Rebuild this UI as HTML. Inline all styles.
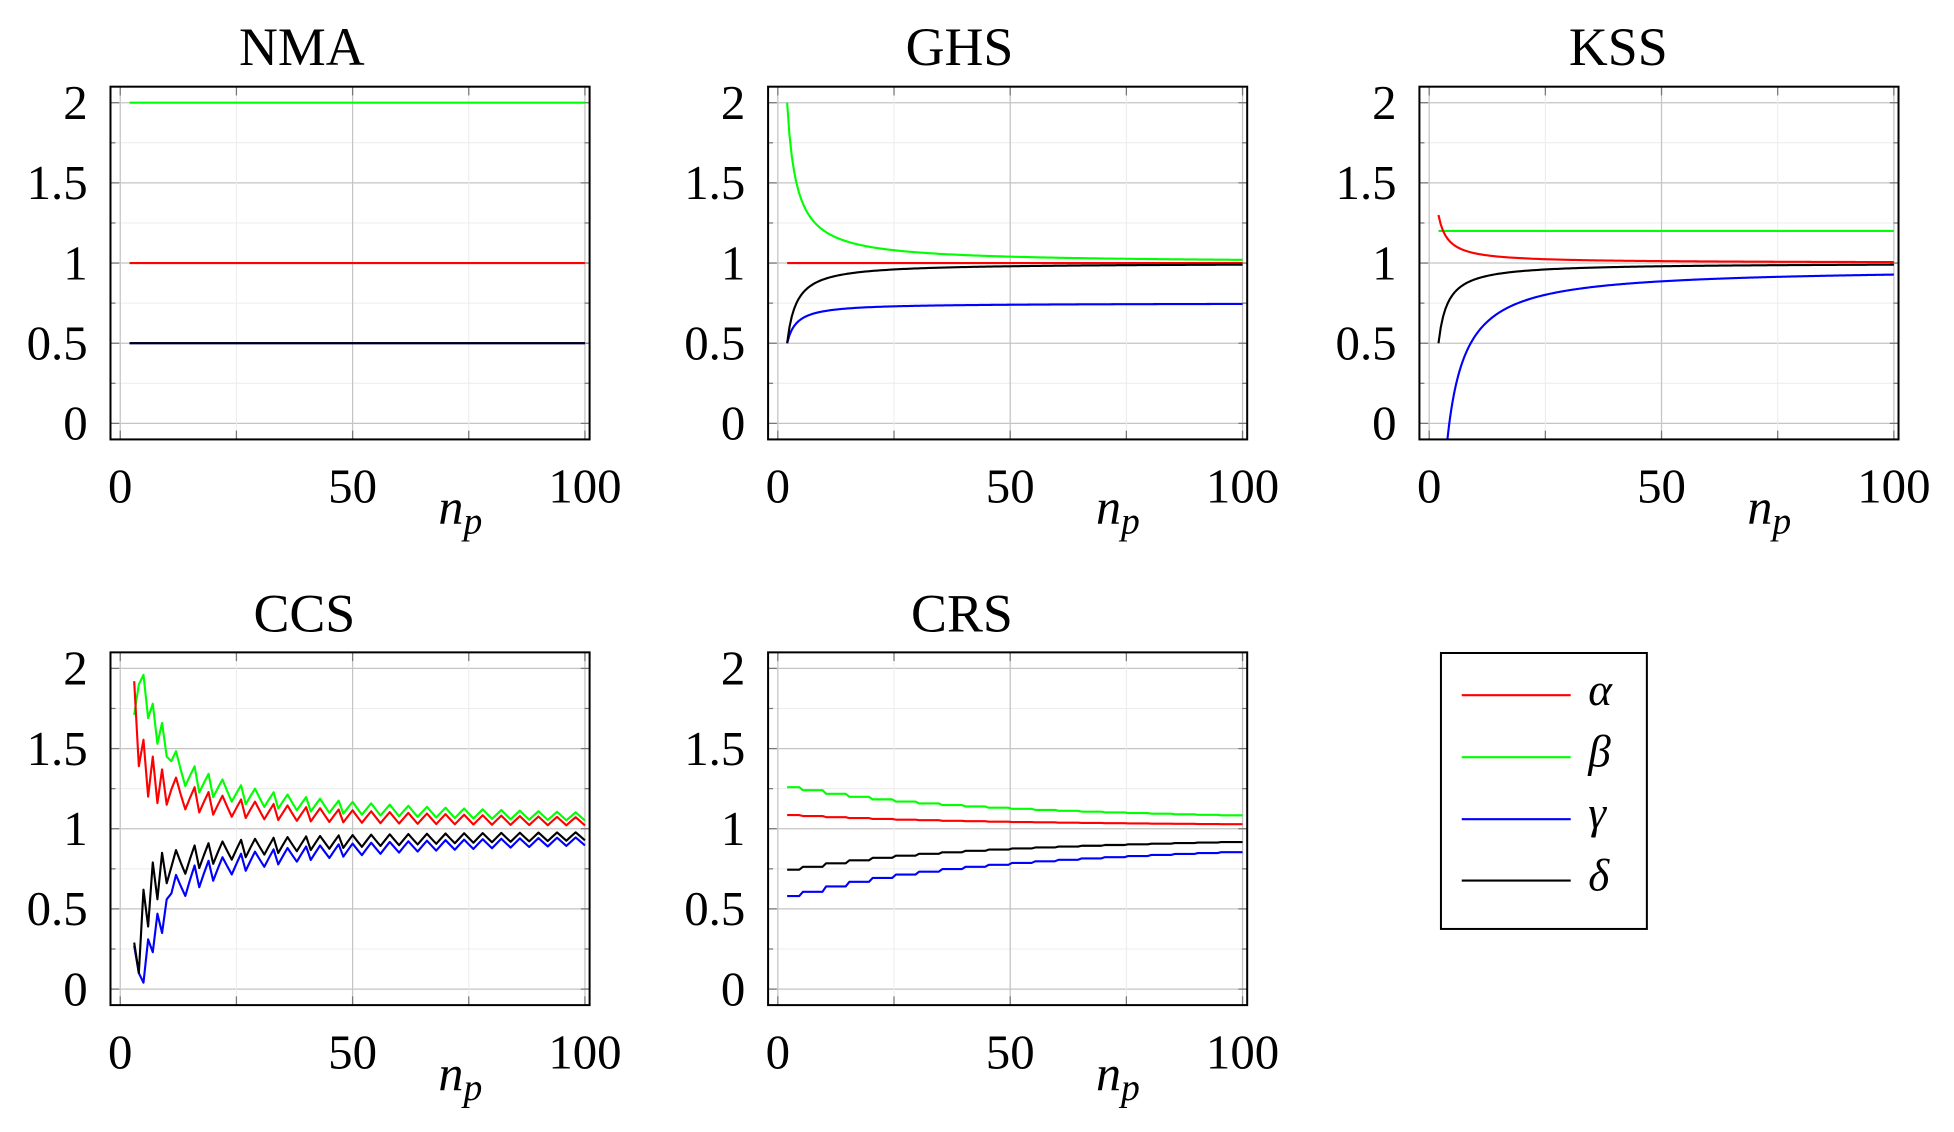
<!DOCTYPE html>
<html><head><meta charset="utf-8">
<style>
html,body{margin:0;padding:0;background:#fff;}
svg{display:block;}
text{font-family:"Liberation Serif","DejaVu Serif",serif;fill:#000;}
.t{font-size:43px;text-anchor:middle;}
.yl{font-size:39px;text-anchor:end;}
.xl{font-size:39px;text-anchor:middle;}
.np{font-size:40px;font-style:italic;}
.lg{font-size:36px;font-style:italic;}
</style></head>
<body>
<svg id="s" width="1954" height="1132" viewBox="0 0 1560 903.7" preserveAspectRatio="none" xmlns="http://www.w3.org/2000/svg">
<g id="plots"></g>
<text class="t" x="241" y="52">NMA</text>
<text class="t" x="766" y="52">GHS</text>
<text class="t" x="1292" y="52">KSS</text>
<text class="t" x="243" y="504">CCS</text>
<text class="t" x="768" y="504">CRS</text>
<g class="yl">
<text class="yl" x="70" y="351">0</text><text class="yl" x="70" y="287">0.5</text><text class="yl" x="70" y="223">1</text><text class="yl" x="70" y="159">1.5</text><text class="yl" x="70" y="95">2</text>
<text class="yl" x="595" y="351">0</text><text class="yl" x="595" y="287">0.5</text><text class="yl" x="595" y="223">1</text><text class="yl" x="595" y="159">1.5</text><text class="yl" x="595" y="95">2</text>
<text class="yl" x="1115" y="351">0</text><text class="yl" x="1115" y="287">0.5</text><text class="yl" x="1115" y="223">1</text><text class="yl" x="1115" y="159">1.5</text><text class="yl" x="1115" y="95">2</text>
<text class="yl" x="70" y="802.6">0</text><text class="yl" x="70" y="738.6">0.5</text><text class="yl" x="70" y="674.6">1</text><text class="yl" x="70" y="610.6">1.5</text><text class="yl" x="70" y="546.6">2</text>
<text class="yl" x="595" y="802.6">0</text><text class="yl" x="595" y="738.6">0.5</text><text class="yl" x="595" y="674.6">1</text><text class="yl" x="595" y="610.6">1.5</text><text class="yl" x="595" y="546.6">2</text>
</g>
<text class="xl" x="96" y="401">0</text><text class="xl" x="281.5" y="401">50</text><text class="xl" x="467" y="401">100</text>
<text class="xl" x="621" y="401">0</text><text class="xl" x="806.5" y="401">50</text><text class="xl" x="992" y="401">100</text>
<text class="xl" x="1141" y="401">0</text><text class="xl" x="1326.5" y="401">50</text><text class="xl" x="1512" y="401">100</text>
<text class="xl" x="96" y="853">0</text><text class="xl" x="281.5" y="853">50</text><text class="xl" x="467" y="853">100</text>
<text class="xl" x="621" y="853">0</text><text class="xl" x="806.5" y="853">50</text><text class="xl" x="992" y="853">100</text>
<text class="np" x="350" y="418">n<tspan font-size="30" dy="8">p</tspan></text>
<text class="np" x="875" y="418">n<tspan font-size="30" dy="8">p</tspan></text>
<text class="np" x="1395" y="418">n<tspan font-size="30" dy="8">p</tspan></text>
<text class="np" x="350" y="870">n<tspan font-size="30" dy="8">p</tspan></text>
<text class="np" x="875" y="870">n<tspan font-size="30" dy="8">p</tspan></text>
<rect x="1150.4" y="521.3" width="164.4" height="220.3" fill="#fff" stroke="#000" stroke-width="1.6"/>
<line x1="1167" y1="555" x2="1254" y2="555" stroke="#f00" stroke-width="1.7"/>
<line x1="1167" y1="604.5" x2="1254" y2="604.5" stroke="#0f0" stroke-width="1.7"/>
<line x1="1167" y1="654" x2="1254" y2="654" stroke="#00f" stroke-width="1.7"/>
<line x1="1167" y1="703" x2="1254" y2="703" stroke="#000" stroke-width="1.7"/>
<text class="lg" x="1268" y="563">α</text>
<text class="lg" x="1268" y="612">β</text>
<text class="lg" x="1268" y="661">γ</text>
<text class="lg" x="1268" y="711">δ</text>
</svg>
<script>
(function(){
var NS="http://www.w3.org/2000/svg",G=document.getElementById("plots");
var SX=3.71,SY=128,cid=0;
function el(t,a,p){var e=document.createElementNS(NS,t);for(var k in a)e.setAttribute(k,a[k]);(p||G).appendChild(e);return e;}
function panel(x0,y0,series){
  var X=function(n){return x0+n*SX;},Y=function(v){return y0-v*SY;};
  var L=X(-2.1),R=X(101),T=Y(2.1),B=Y(-0.1);
  var g=el("g",{});
  for(var v=0;v<=2.001;v+=0.25){var maj=Math.abs(v*2-Math.round(v*2))<1e-6;
    el("line",{x1:L,x2:R,y1:Y(v),y2:Y(v),stroke:maj?"#c4c4c4":"#ececec","stroke-width":maj?1:0.8},g);}
  [0,25,50,75,100].forEach(function(n){var maj=n%50==0;
    el("line",{x1:X(n),x2:X(n),y1:T,y2:B,stroke:maj?"#c4c4c4":"#ececec","stroke-width":maj?1:0.8},g);
    el("line",{x1:X(n),x2:X(n),y1:B,y2:B-7,stroke:"#777","stroke-width":1},g);
    el("line",{x1:X(n),x2:X(n),y1:T,y2:T+7,stroke:"#777","stroke-width":1},g);});
  for(var v=0;v<=2.001;v+=0.25){var maj=Math.abs(v*2-Math.round(v*2))<1e-6,l=maj?7:4;
    el("line",{x1:L,x2:L+l,y1:Y(v),y2:Y(v),stroke:"#777","stroke-width":1},g);
    el("line",{x1:R,x2:R-l,y1:Y(v),y2:Y(v),stroke:"#777","stroke-width":1},g);}
  cid++;var cp=el("clipPath",{id:"c"+cid},g);el("rect",{x:L,y:T,width:R-L,height:B-T},cp);
  var dg=el("g",{"clip-path":"url(#c"+cid+")"},g);
  series.forEach(function(s){
    var d="";s.pts.forEach(function(p,i){d+=(i?"L":"M")+X(p[0]).toFixed(2)+" "+Y(p[1]).toFixed(2);});
    el("path",{d:d,fill:"none",stroke:s.c,"stroke-width":1.7,"stroke-linejoin":"round"},dg);});
  el("rect",{x:L,y:T,width:R-L,height:B-T,fill:"none",stroke:"#000","stroke-width":1.6},g);
}
function fn(f,a,b,st){var p=[];for(var n=a;n<=b+1e-9;n+=st)p.push([n,f(n)]);return p;}
var r1=338,r2=789.6;
panel(96,r1,[
 {c:"#0f0",pts:fn(function(){return 2},2,100,98)},
 {c:"#f00",pts:fn(function(){return 1},2,100,98)},
 {c:"#00f",pts:fn(function(){return 0.5},2,100,98)},
 {c:"#000",pts:fn(function(){return 0.5},2,100,98)}]);
panel(621,r1,[
 {c:"#f00",pts:fn(function(){return 1},2,100,98)},
 {c:"#0f0",pts:fn(function(n){return 1+2/n},2,100,0.5)},
 {c:"#00f",pts:fn(function(n){return 0.75-0.5/n},2,100,0.5)},
 {c:"#000",pts:fn(function(n){return 1-1/n},2,100,0.5)}]);
panel(1141,r1,[
 {c:"#0f0",pts:fn(function(){return 1.2},2,100,98)},
 {c:"#f00",pts:fn(function(n){return 1+0.6/n},2,100,0.5)},
 {c:"#00f",pts:fn(function(n){return 0.97-4.2/n},3.5,100,0.25)},
 {c:"#000",pts:fn(function(n){return 1-1/n},2,100,0.5)}]);
var pk=[12,16,19,22,26,29,33,36,40,43,47,50,54,58,62,66,70,74,78,82,86,90,94,98];
var keys=[[10,0]];for(var i=0;i<pk.length;i++){keys.push([pk[i],1]);var nx=(i+1<pk.length)?pk[i+1]:102;keys.push([Math.floor((pk[i]+nx)/2),0]);}
function z(n){for(var i=0;i<keys.length-1;i++){if(n>=keys[i][0]&&n<=keys[i+1][0]){var a=keys[i],b=keys[i+1];return a[1]+(b[1]-a[1])*(n-a[0])/(b[0]-a[0]);}}return 0;}
var E={r:{3:1.92,4:1.39,5:1.555,6:1.2,7:1.45,8:1.16,9:1.37,10:1.15},
 g:{3:1.71,4:1.9,5:1.96,6:1.69,7:1.78,8:1.53,9:1.66,10:1.45},
 k:{3:0.29,4:0.1,5:0.62,6:0.39,7:0.79,8:0.56,9:0.85,10:0.66},
 b:{3:0.27,4:0.1,5:0.04,6:0.31,7:0.23,8:0.47,9:0.35,10:0.56}};
var R=[],Gr=[],K=[],Bl=[];
for(var n=3;n<=100;n++){
  if(n<=10){R.push([n,E.r[n]]);Gr.push([n,E.g[n]]);K.push([n,E.k[n]]);Bl.push([n,E.b[n]]);continue;}
  var zz=z(n),red=1+1.3/Math.pow(n,0.9)+0.8/Math.pow(n,0.6)*zz;
  var blk=1-1.1/Math.pow(n,0.85)-0.8/Math.pow(n,0.6)*(1-zz);
  R.push([n,red]);Gr.push([n,red+1.2/Math.pow(n,0.8)]);K.push([n,blk]);Bl.push([n,blk-1.0/Math.pow(n,0.75)]);
}
panel(96,r2,[{c:"#0f0",pts:Gr},{c:"#f00",pts:R},{c:"#00f",pts:Bl},{c:"#000",pts:K}]);
function stair(f){var s=[2];for(var v=5.4;v<100;v+=5)s.push(v);var p=[];
  for(var i=0;i<s.length;i++){var val=f(s[i]);var end=(i+1<s.length)?s[i+1]-0.8:100;p.push([s[i],val]);p.push([end,val]);}
  return p;}
panel(621,r2,[
 {c:"#0f0",pts:stair(function(n){return 1+11.5/(n+42.4)})},
 {c:"#f00",pts:stair(function(n){return 1+4/(n+45)})},
 {c:"#00f",pts:stair(function(n){return 1-21/(n+48)})},
 {c:"#000",pts:stair(function(n){return 1-11.5/(n+43)})}]);
})();
</script>
</body></html>
